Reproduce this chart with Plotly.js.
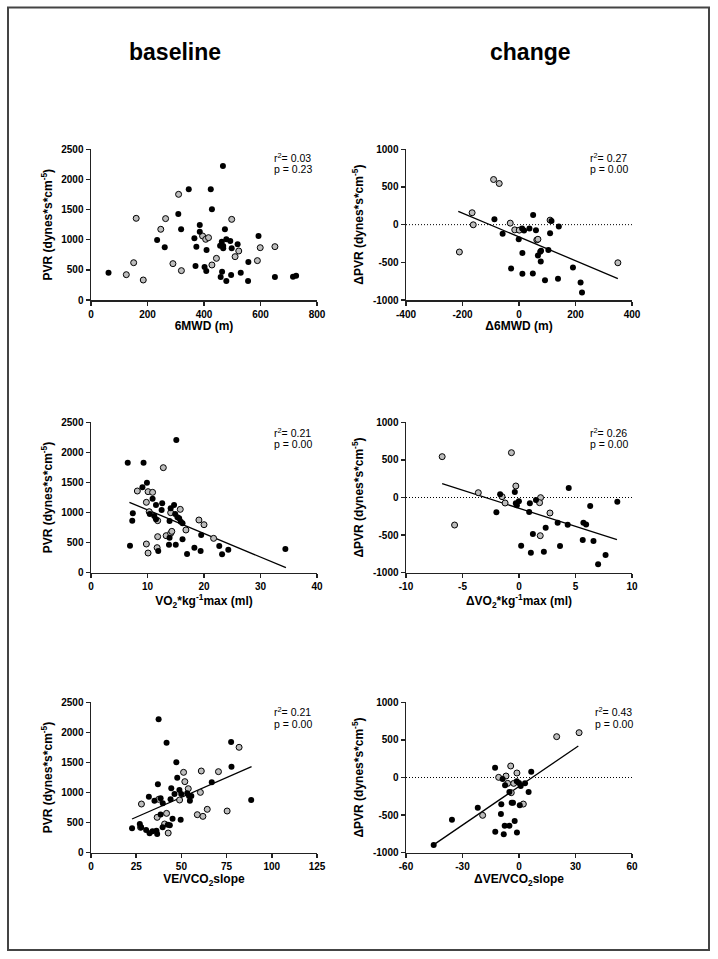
<!DOCTYPE html>
<html>
<head>
<meta charset="utf-8">
<script src="https://cdn.plot.ly/plotly-3.0.1.min.js"></script>
<style>html,body{margin:0;padding:0;background:#fff;}#chart{width:718px;height:959px;}</style>
</head>
<body>
<div id="chart"></div>
<script>
// ---------- Panel 1: PVR vs 6MWD (baseline) ----------
const p1BlackX = [62,346,424,467,428,309,319,234,261,385,385,366,373,409,370,402,408,474,463,479,493,468,457,468,498,519,593,557,530,496,464,459,479,556,651,715,726];
const p1BlackY = [453,1836,1836,2223,1504,1427,1173,996,874,1244,1134,1023,885,830,564,548,481,1173,968,1007,979,896,902,857,857,924,1062,631,453,415,470,381,315,315,381,387,404];
const p1GrayX = [160,310,247,264,151,125,185,290,320,395,406,416,498,444,428,510,523,599,651,589];
const p1GrayY = [1355,1753,1173,1350,619,420,332,603,487,1062,1007,1034,1338,691,581,719,813,868,885,653];

// ---------- Panel 2: dPVR vs d6MWD (change) ----------
const p2BlackX = [-87,-58,-1,11,18,37,60,50,115,141,110,12,-28,12,49,92,138,67,77,78,104,191,218,223,75];
const p2BlackY = [73,-122,-194,-51,-78,-51,-73,127,47,-24,-114,-376,-581,-653,-648,-737,-719,-408,-488,-345,-336,-568,-768,-902,-359];
const p2GrayX = [-90,-70,-166,-162,-211,-31,-15,1,63,67,110,350];
const p2GrayY = [599,546,158,-2,-363,20,-69,-73,-203,-194,60,-506];
const p2FitX = [-215,350];
const p2FitY = [176,-715];

// ---------- Panel 3: PVR vs VO2/kg max (baseline) ----------
const p3BlackX = [6.5,6.9,7.3,7.4,9.3,9.9,9.1,10.9,11.5,10.4,11.2,11.5,11.9,12.6,12.5,15.1,14.1,13.9,14.7,14.9,15.3,15.6,15.9,16.2,13.9,13.8,15.0,16.2,17.0,18.3,19.4,19.5,22.7,23.2,24.3,34.4];
const p3BlackY = [1829,449,865,987,1829,1497,1419,1231,1125,976,942,887,360,1153,1042,2206,1070,859,1125,976,920,904,848,820,582,466,466,554,310,416,360,626,443,305,382,394];
const p3GrayX = [8.2,10.1,10.9,9.8,10.3,11.8,12.8,11.8,9.8,10.1,11.7,13.3,14.1,14.3,14.1,15.8,16.8,19.1,20.0,21.7];
const p3GrayY = [1358,1347,1336,1170,1014,865,1746,599,477,327,416,615,654,687,998,1053,710,876,798,571];
const p3FitX = [6.8,34.5];
const p3FitY = [1170,83];

// ---------- Panel 4: dPVR vs dVO2/kg max (change) ----------
const p4BlackX = [-1.67,-0.37,-0.01,-0.19,-0.28,-2.0,0.96,0.9,1.5,4.4,6.3,8.7,2.36,1.23,0.19,1.05,2.2,3.42,3.63,4.31,5.64,5.7,5.94,6.59,7.66,7.0];
const p4BlackY = [42,73,-51,-104,-78,-197,-78,-193,-33,126,-113,-55,-401,-486,-641,-734,-721,-337,-645,-364,-565,-337,-359,-578,-765,-889];
const p4GrayX = [-6.8,-0.67,-5.7,-3.6,-1.5,-1.23,-0.28,1.91,1.82,2.74,1.88];
const p4GrayY = [543,596,-366,64,11,-73,153,-2,-69,-206,-508];
const p4FitX = [-6.8,8.67];
const p4FitY = [184,-561];

// ---------- Panel 5: PVR vs VE/VCO2 slope (baseline) ----------
const p5BlackX = [37.4,41.8,47.2,47.7,37.0,32.0,35.1,38.5,39.7,44.4,46.2,48.9,49.9,44.0,54.2,54.7,55.5,53.2,66.8,77.5,77.7,88.6,45.1,49.6,38.5,22.7,27.0,27.7,30.5,32.4,34.0,36.2,36.6,39.6,42.5,43.6];
const p5BlackY = [2217,1829,1502,1247,1136,931,865,904,820,1070,976,1042,976,887,942,865,942,987,1170,1840,1430,876,565,549,637,405,477,421,377,322,355,366,310,421,466,455];
const p5GrayX = [27.9,27.4,36.6,37.4,41.8,40.7,42.7,49.0,51.2,51.9,53.8,61.0,60.5,58.8,61.9,64.3,70.5,75.3,81.9];
const p5GrayY = [809,421,588,887,654,477,327,876,1336,1181,1064,1358,1003,632,604,721,1347,693,1752];
const p5FitX = [22.7,88.8];
const p5FitY = [560,1430];

// ---------- Panel 6: dPVR vs dVE/VCO2 slope (change) ----------
const p6BlackX = [-45.3,-35.6,-21.9,-12.7,-8.7,-7.4,-5.1,-1.2,0,0.9,3.2,5.1,6.5,-3.2,-3.9,-9.4,0.4,-9.6,-12.6,-7.6,-5.1,-8.1,-2.3,-1.1];
const p6BlackY = [-898,-561,-401,131,-20,-104,-193,-51,-73,-113,-78,-193,78,-335,-335,-357,-370,-486,-721,-641,-641,-756,-579,-730];
const p6GrayX = [20.0,31.9,-4.4,-1.1,-10.8,-6.9,-6.0,-2.8,-4.1,2.3,-19.3];
const p6GrayY = [543,596,153,60,2,20,-78,-78,-202,-353,-503];
const p6FitX = [-45,31.5];
const p6FitY = [-889,419];

// ---------- Tick labels ----------
const x1Ticks = ["0","200","400","600","800"];
const x2Ticks = ["-400","-200","0","200","400"];
const x3Ticks = ["0","10","20","30","40"];
const x4Ticks = ["-10","-5","0","5","10"];
const x5Ticks = ["0","25","50","75","100","125"];
const x6Ticks = ["-60","-30","0","30","60"];
const yBaseTicks = ["0","500","1000","1500","2000","2500"];
const yChangeTicks = ["-1000","-500","0","500","1000"];

// ---------- Text ----------
const columnTitles = ["baseline", "change"];
const xTitles = ["6MWD (m)", "Δ6MWD (m)", "VO<sub>2</sub>*kg<sup>-1</sup>max (ml)", "ΔVO<sub>2</sub>*kg<sup>-1</sup>max (ml)", "VE/VCO<sub>2</sub>slope", "ΔVE/VCO<sub>2</sub>slope"];
const yTitles = ["PVR (dynes*s*cm<sup>-5</sup>)", "ΔPVR (dynes*s*cm<sup>-5</sup>)"];
const r2Values = ["0.03", "0.27", "0.21", "0.26", "0.21", "0.43"];
const pValues = ["0.23", "0.00", "0.00", "0.00", "0.00", "0.00"];
const xTickSets = [x1Ticks, x2Ticks, x3Ticks, x4Ticks, x5Ticks, x6Ticks];

const W = 718, H = 959;
const panels = [
  {bx:p1BlackX, by:p1BlackY, gx:p1GrayX, gy:p1GrayY, fx:null, fy:null},
  {bx:p2BlackX, by:p2BlackY, gx:p2GrayX, gy:p2GrayY, fx:p2FitX, fy:p2FitY},
  {bx:p3BlackX, by:p3BlackY, gx:p3GrayX, gy:p3GrayY, fx:p3FitX, fy:p3FitY},
  {bx:p4BlackX, by:p4BlackY, gx:p4GrayX, gy:p4GrayY, fx:p4FitX, fy:p4FitY},
  {bx:p5BlackX, by:p5BlackY, gx:p5GrayX, gy:p5GrayY, fx:p5FitX, fy:p5FitY},
  {bx:p6BlackX, by:p6BlackY, gx:p6GrayX, gy:p6GrayY, fx:p6FitX, fy:p6FitY}
];

// pixel geometry of plot areas
const colX = [[91,317],[406,632]];
const rowY = [[149.3,300],[422.3,572.7],[702.3,852.7]];
const statX = [272,588,272,588,272,593];
const statY = [157,157,432,432,711,711];

const FONT = "Liberation Sans, Arial, sans-serif";
const traces = [];
const layout = {
  width: W, height: H,
  margin: {l:0, r:0, t:0, b:0},
  paper_bgcolor: "#fff", plot_bgcolor: "rgba(0,0,0,0)",
  showlegend: false,
  font: {family: FONT, color: "#000"},
  annotations: [], shapes: []
};

const num = s => parseFloat(s);

panels.forEach((p, i) => {
  const n = i + 1;
  const xa = n === 1 ? "x" : "x" + n;
  const ya = n === 1 ? "y" : "y" + n;
  const col = i % 2, row = Math.floor(i / 2);
  const change = col === 1;
  if (p.fx) {
    traces.push({x: p.fx, y: p.fy, xaxis: xa, yaxis: ya, mode: "lines", type: "scatter",
      line: {color: "#000", width: 1.3}, hoverinfo: "skip"});
  }
  traces.push({x: p.gx, y: p.gy, xaxis: xa, yaxis: ya, mode: "markers", type: "scatter", cliponaxis: false,
    marker: {size: 6, color: "#bdbdbd", line: {color: "#000", width: 1}}});
  traces.push({x: p.bx, y: p.by, xaxis: xa, yaxis: ya, mode: "markers", type: "scatter", cliponaxis: false,
    marker: {size: 6, color: "#000", line: {color: "#000", width: 0}}});

  const axCommon = {
    showgrid: false, zeroline: false, showline: true, linecolor: "#222", linewidth: 1.5,
    ticks: "outside", ticklen: 4, tickwidth: 1.5, tickcolor: "#222",
    tickfont: {family: FONT, size: 10, color: "#000", weight: 700}
  };
  const xt = xTickSets[i];
  const yt = change ? yChangeTicks : yBaseTicks;
  layout[(n === 1 ? "xaxis" : "xaxis" + n)] = Object.assign({}, axCommon, {
    domain: [colX[col][0] / W, colX[col][1] / W],
    anchor: ya, range: [num(xt[0]), num(xt[xt.length - 1])],
    tickmode: "array", tickvals: xt.map(num), ticktext: xt.map(t => "<b>" + t + "</b>"),
    title: {text: "<b>" + xTitles[i] + "</b>", font: {family: FONT, size: 12, color: "#000"}, standoff: 2}
  });
  layout[(n === 1 ? "yaxis" : "yaxis" + n)] = Object.assign({}, axCommon, {
    domain: [1 - rowY[row][1] / H, 1 - rowY[row][0] / H],
    anchor: xa, range: [num(yt[0]), num(yt[yt.length - 1])],
    tickmode: "array", tickvals: yt.map(num), ticktext: yt.map(t => "<b>" + t + "</b>"),
    title: {text: "<b>" + yTitles[col] + "</b>", font: {family: FONT, size: 12, color: "#000"}, standoff: 6}
  });
  if (change) {
    layout.shapes.push({type: "line", xref: xa + " domain", yref: ya, x0: 0, x1: 1, y0: 0, y1: 0,
      line: {color: "#000", width: 1, dash: "1px,2px"}, layer: "below"});
  }
  layout.annotations.push({xref: "paper", yref: "paper", x: statX[i] / W, y: 1 - statY[i] / H,
    xanchor: "left", yanchor: "middle", showarrow: false, align: "left",
    text: "r<sup>2</sup>= " + r2Values[i], font: {family: FONT, size: 10.5, color: "#000"}});
  layout.annotations.push({xref: "paper", yref: "paper", x: statX[i] / W, y: 1 - (statY[i] + 12.5) / H,
    xanchor: "left", yanchor: "middle", showarrow: false, align: "left",
    text: "p = " + pValues[i], font: {family: FONT, size: 10.5, color: "#000"}});
});

// column titles
[175, 530].forEach((cx, k) => {
  layout.annotations.push({xref: "paper", yref: "paper", x: cx / W, y: 1 - 52 / H,
    xanchor: "center", yanchor: "middle", showarrow: false,
    text: "<b>" + columnTitles[k] + "</b>", font: {family: FONT, size: 23, color: "#000"}});
});

// outer frame
layout.shapes.push({type: "rect", xref: "paper", yref: "paper",
  x0: 8 / W, x1: 709 / W, y0: 1 - 950 / H, y1: 1 - 7.5 / H,
  line: {color: "#444", width: 2}, fillcolor: "rgba(0,0,0,0)"});

Plotly.newPlot("chart", traces, layout, {staticPlot: true, displayModeBar: false});
</script>
</body>
</html>
